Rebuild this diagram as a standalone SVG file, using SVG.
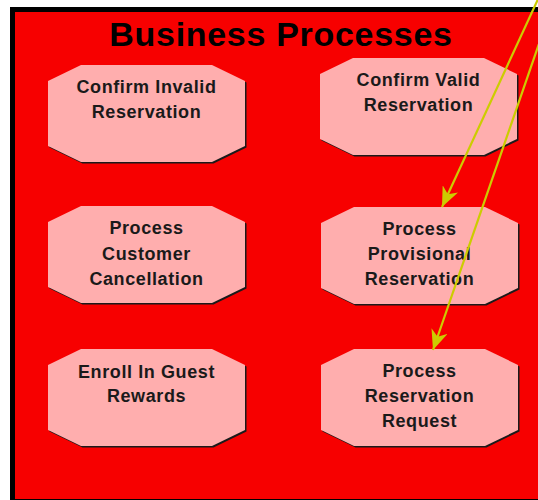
<svg xmlns="http://www.w3.org/2000/svg" width="538" height="500" viewBox="0 0 538 500">
  <style>
    .node-shadow { fill: #1a1a1a; }
    .node-body { fill: #FFAEAE; }
    .label { font-family: "Liberation Sans", Arial, sans-serif; font-weight: bold; font-size: 18px; letter-spacing: 0.6px; fill: #1a1a1a; text-anchor: middle; }
    .title { font-family: "Liberation Sans", Arial, sans-serif; font-weight: bold; font-size: 34px; letter-spacing: 0.7px; fill: #000; text-anchor: middle; }
    .conn { stroke: #CCCC00; stroke-width: 2.2; fill: none; }
  </style>
  <defs>
    <polygon id="oct" points="33,0 164,0 197,16 197,81 164,97 33,97 0,81 0,16"/>
    <marker id="arrow" markerUnits="userSpaceOnUse" viewBox="0 0 20 17" markerWidth="20" markerHeight="17" refX="20" refY="8.5" orient="auto">
      <path d="M20,8.5 L0,0 L6,8.5 L0,17 Z" fill="#CCCC00"/>
    </marker>
  </defs>
  <rect width="538" height="500" fill="#ffffff"/>
  <g id="frame">
    <rect x="12.5" y="9.5" width="600" height="492" fill="#F70000" stroke="#000" stroke-width="5"/>
    <text class="title" x="281" y="46">Business Processes</text>
  </g>
  <g id="node-confirm-invalid" transform="translate(48,65)">
    <use href="#oct" class="node-shadow" x="1.5" y="1.5"/>
    <use href="#oct" class="node-body"/>
    <text class="label" x="98.5" y="28">Confirm Invalid</text>
    <text class="label" x="98.5" y="53">Reservation</text>
  </g>
  <g id="node-confirm-valid" transform="translate(320,58)">
    <use href="#oct" class="node-shadow" x="1.5" y="1.5"/>
    <use href="#oct" class="node-body"/>
    <text class="label" x="98.5" y="28">Confirm Valid</text>
    <text class="label" x="98.5" y="53">Reservation</text>
  </g>
  <g id="node-customer-cancellation" transform="translate(48,206)">
    <use href="#oct" class="node-shadow" x="1.5" y="1.5"/>
    <use href="#oct" class="node-body"/>
    <text class="label" x="98.5" y="28">Process</text>
    <text class="label" x="98.5" y="54">Customer</text>
    <text class="label" x="98.5" y="79">Cancellation</text>
  </g>
  <g id="node-provisional" transform="translate(321,207)">
    <use href="#oct" class="node-shadow" x="1.5" y="1.5"/>
    <use href="#oct" class="node-body"/>
    <text class="label" x="98.5" y="28">Process</text>
    <text class="label" x="98.5" y="53">Provisional</text>
    <text class="label" x="98.5" y="78">Reservation</text>
  </g>
  <g id="node-guest-rewards" transform="translate(48,349)">
    <use href="#oct" class="node-shadow" x="1.5" y="1.5"/>
    <use href="#oct" class="node-body"/>
    <text class="label" x="98.5" y="29">Enroll In Guest</text>
    <text class="label" x="98.5" y="53">Rewards</text>
  </g>
  <g id="node-reservation-request" transform="translate(321,349)">
    <use href="#oct" class="node-shadow" x="1.5" y="1.5"/>
    <use href="#oct" class="node-body"/>
    <text class="label" x="98.5" y="28">Process</text>
    <text class="label" x="98.5" y="53">Reservation</text>
    <text class="label" x="98.5" y="78">Request</text>
  </g>
  <g id="connectors">
    <line class="conn" x1="539" y1="-3" x2="442" y2="207" marker-end="url(#arrow)"/>
    <line class="conn" x1="541" y1="38" x2="433" y2="350" marker-end="url(#arrow)"/>
  </g>
</svg>
